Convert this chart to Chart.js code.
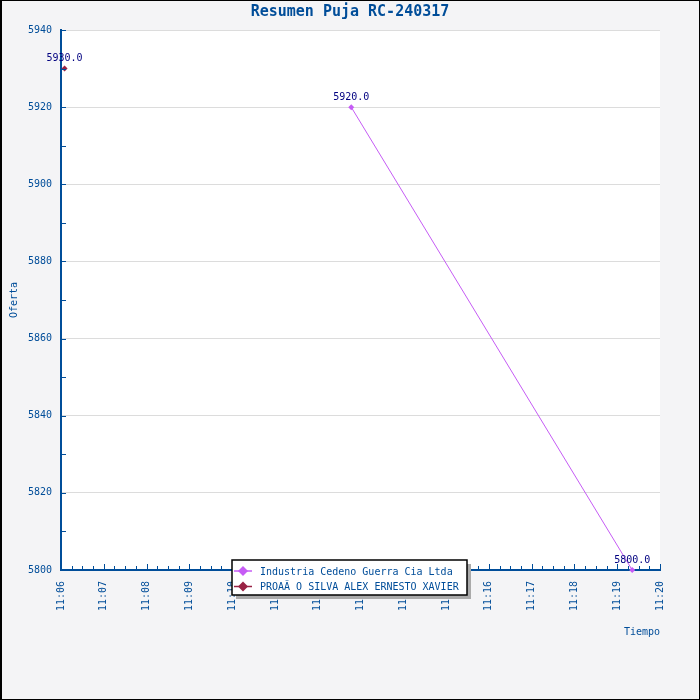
<!DOCTYPE html>
<html>
<head>
<meta charset="utf-8">
<script src="https://cdn.jsdelivr.net/npm/chart.js@4.4.1/dist/chart.umd.min.js"></script>
<style>
  html, body { margin: 0; padding: 0; background: #f4f4f6; }
  canvas { display: block; }
</style>
</head>
<body>
<canvas id="pujaChart" width="700" height="700"></canvas>
<script>
// Data
const chartTitle = "Resumen Puja RC-240317";
const seriesNames = ["Industria Cedeno Guerra Cia Ltda", "PROAÃ O SILVA ALEX ERNESTO XAVIER"];
const industriaTimes = ["11:12:47", "11:19:21"];
const industriaOffers = [5920, 5800];
const proanoTimes = ["11:06:05"];
const proanoOffers = [5930];
const timeStart = "11:06";
const timeEnd = "11:20";
const offerMin = 5800;
const offerMax = 5940;
const offerStep = 20;

const axisBlue = "#004d99";
const monoFont = "'DejaVu Sans Mono', 'Liberation Mono', monospace";

function toMinutes(t) {
  const p = t.split(":").map(Number);
  return p[0] * 60 + p[1] + (p[2] || 0) / 60;
}

function formatMinutes(v) {
  const m = Math.round(v);
  const h = Math.floor(m / 60);
  const mm = m % 60;
  return h + ":" + (mm < 10 ? "0" : "") + mm;
}

function toPoints(times, offers) {
  return times.map((t, i) => ({ x: toMinutes(t), y: offers[i] }));
}

// background, title and frame
const backgroundPlugin = {
  id: "background",
  beforeDraw(chart) {
    const { ctx, chartArea } = chart;
    ctx.save();
    ctx.fillStyle = "#f4f4f6";
    ctx.fillRect(0, 0, chart.width, chart.height);
    ctx.fillStyle = "#ffffff";
    ctx.fillRect(chartArea.left, chartArea.top, chartArea.right - chartArea.left, chartArea.bottom - chartArea.top);
    ctx.fillStyle = axisBlue;
    ctx.font = "bold 15px " + monoFont;
    ctx.textAlign = "center";
    ctx.textBaseline = "middle";
    ctx.fillText(chartTitle, chart.width / 2, 12);
    ctx.restore();
  },
  afterDraw(chart) {
    const ctx = chart.ctx;
    ctx.save();
    ctx.strokeStyle = "#000000";
    ctx.lineWidth = 1;
    ctx.strokeRect(0.5, 0.5, chart.width - 1, chart.height - 1);
    ctx.fillStyle = "#000000";
    ctx.fillRect(0, 0, 2, chart.height);
    ctx.restore();
  }
};

// tick marks drawn inside the plot (major + minor)
const tickMarksPlugin = {
  id: "tickMarks",
  afterDraw(chart) {
    const { ctx, chartArea, scales } = chart;
    ctx.save();
    ctx.strokeStyle = axisBlue;
    ctx.lineWidth = 1;
    const x = scales.x;
    let k = 0;
    for (let v = x.min; v <= x.max + 1e-6; v += 0.25, k++) {
      const px = Math.round(x.getPixelForValue(v)) + 0.5;
      const len = (k % 4 === 0) ? 6 : 4;
      ctx.beginPath();
      ctx.moveTo(px, chartArea.bottom);
      ctx.lineTo(px, chartArea.bottom - len);
      ctx.stroke();
    }
    const y = scales.y;
    for (let v = y.min; v <= y.max; v += offerStep / 2) {
      const py = Math.round(y.getPixelForValue(v)) + 0.5;
      ctx.beginPath();
      ctx.moveTo(chartArea.left, py);
      ctx.lineTo(chartArea.left + 5, py);
      ctx.stroke();
    }
    ctx.restore();
  }
};

// value labels above each point
const valueLabelPlugin = {
  id: "valueLabels",
  afterDatasetsDraw(chart) {
    const ctx = chart.ctx;
    ctx.save();
    ctx.font = "10px " + monoFont;
    ctx.fillStyle = "#000080";
    ctx.textAlign = "center";
    ctx.textBaseline = "middle";
    chart.data.datasets.forEach((ds, i) => {
      chart.getDatasetMeta(i).data.forEach((pt, j) => {
        ctx.fillText(ds.data[j].y.toFixed(1), pt.x, pt.y - 10);
      });
    });
    ctx.restore();
  }
};

// boxed legend sitting over the time axis
const boxLegendPlugin = {
  id: "boxLegend",
  afterDraw(chart) {
    const ctx = chart.ctx;
    const bx = 232, by = 560, bw = 235, bh = 35;
    ctx.save();
    ctx.fillStyle = "#aaaaaa";
    ctx.fillRect(bx + 4, by + 4, bw, bh);
    ctx.fillStyle = "#ffffff";
    ctx.fillRect(bx, by, bw, bh);
    ctx.strokeStyle = "#000000";
    ctx.lineWidth = 1.5;
    ctx.strokeRect(bx, by, bw, bh);
    ctx.font = "10px " + monoFont;
    ctx.textBaseline = "middle";
    chart.data.datasets.forEach((ds, i) => {
      const ly = by + 11 + i * 15.5;
      ctx.strokeStyle = ds.borderColor;
      ctx.lineWidth = 1.5;
      ctx.beginPath();
      ctx.moveTo(bx + 2, ly);
      ctx.lineTo(bx + 20, ly);
      ctx.stroke();
      ctx.fillStyle = ds.borderColor;
      ctx.beginPath();
      ctx.moveTo(bx + 11, ly - 5);
      ctx.lineTo(bx + 16, ly);
      ctx.lineTo(bx + 11, ly + 5);
      ctx.lineTo(bx + 6, ly);
      ctx.closePath();
      ctx.fill();
      ctx.fillStyle = axisBlue;
      ctx.fillText(ds.label, bx + 28, ly + 1);
    });
    ctx.restore();
  }
};

const ctx = document.getElementById("pujaChart").getContext("2d");

window.pujaChart = new Chart(ctx, {
  type: "line",
  data: {
    datasets: [
      {
        label: seriesNames[0],
        data: toPoints(industriaTimes, industriaOffers),
        borderColor: "#c65cf5",
        backgroundColor: "#c65cf5",
        borderWidth: 1,
        pointStyle: "rectRot",
        pointRadius: 3,
        pointBorderWidth: 0,
        clip: false
      },
      {
        label: seriesNames[1],
        data: toPoints(proanoTimes, proanoOffers),
        borderColor: "#992244",
        backgroundColor: "#992244",
        borderWidth: 1,
        pointStyle: "rectRot",
        pointRadius: 3,
        pointBorderWidth: 0,
        clip: false
      }
    ]
  },
  options: {
    responsive: false,
    animation: false,
    devicePixelRatio: 1,
    layout: {
      autoPadding: false,
      padding: { top: 30, right: 40, bottom: 0, left: 0 }
    },
    plugins: {
      legend: { display: false },
      tooltip: { enabled: false },
      title: { display: false }
    },
    scales: {
      x: {
        type: "linear",
        min: toMinutes(timeStart),
        max: toMinutes(timeEnd),
        afterFit: (s) => { s.height = 130; },
        grid: { display: false, drawTicks: false },
        border: { display: true, color: axisBlue, width: 2 },
        ticks: {
          stepSize: 1,
          autoSkip: false,
          minRotation: 90,
          maxRotation: 90,
          padding: 11,
          color: axisBlue,
          font: { family: monoFont, size: 10 },
          callback: (v) => formatMinutes(v)
        },
        title: {
          display: true,
          text: "Tiempo",
          align: "end",
          color: axisBlue,
          font: { family: monoFont, size: 10 },
          padding: { top: 0, bottom: 62 }
        }
      },
      y: {
        min: offerMin,
        max: offerMax,
        afterFit: (s) => { s.width = 61; },
        grid: { color: "#dcdcdc", lineWidth: 1, drawTicks: false },
        border: { display: true, color: axisBlue, width: 2 },
        ticks: {
          stepSize: offerStep,
          padding: 9,
          color: axisBlue,
          font: { family: monoFont, size: 10 },
          callback: (v) => String(v)
        },
        title: {
          display: true,
          text: "Oferta",
          color: axisBlue,
          font: { family: monoFont, size: 10 },
          padding: { top: 8, bottom: 0 }
        }
      }
    }
  },
  plugins: [backgroundPlugin, tickMarksPlugin, valueLabelPlugin, boxLegendPlugin]
});
</script>
</body>
</html>
